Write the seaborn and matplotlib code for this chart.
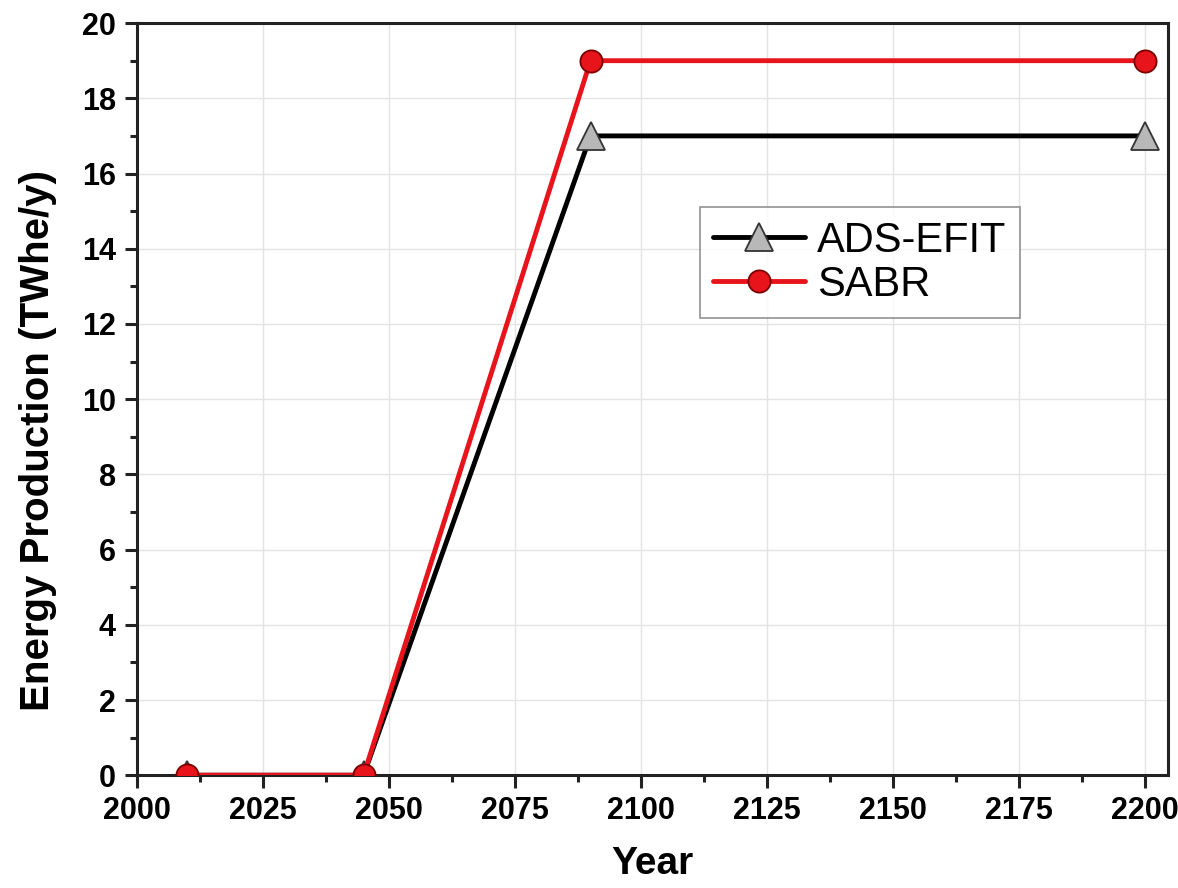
import matplotlib
matplotlib.use("Agg")
import matplotlib.pyplot as plt
from matplotlib.ticker import AutoMinorLocator
import seaborn as sns
import pandas as pd

years = [2010, 2045, 2090, 2200]
ads_efit = [0, 0, 17, 17]
sabr = [0, 0, 19, 19]
x_ticks = [2000, 2025, 2050, 2075, 2100, 2125, 2150, 2175, 2200]
y_ticks = [0, 2, 4, 6, 8, 10, 12, 14, 16, 18, 20]

sns.set_theme(style="white")
plt.rcParams["font.family"] = ["Liberation Sans", "DejaVu Sans"]
plt.rcParams["text.color"] = "black"
plt.rcParams["xtick.color"] = "black"
plt.rcParams["ytick.color"] = "black"
plt.rcParams["axes.labelcolor"] = "black"

fig = plt.figure(figsize=(11.78, 8.88), dpi=100)
ax = fig.add_axes([0.116, 0.127, 0.8755, 0.847])

df_a = pd.DataFrame({"Year": years, "Energy": ads_efit})
df_s = pd.DataFrame({"Year": years, "Energy": sabr})

sns.lineplot(data=df_a, x="Year", y="Energy", ax=ax, color="black", lw=3.5,
             marker="^", markersize=20, markerfacecolor="#b8b8b8",
             markeredgecolor="#333333", markeredgewidth=1.3, label="ADS-EFIT",
             zorder=3)
sns.lineplot(data=df_s, x="Year", y="Energy", ax=ax, color="#e8141c", lw=3.5,
             marker="o", markersize=16, markerfacecolor="#e8141c",
             markeredgecolor="#7a0000", markeredgewidth=1.3, label="SABR",
             zorder=4)

ax.set_xlim(2000, 2204.5)
ax.set_ylim(0, 20)
ax.set_xticks(x_ticks)
ax.set_yticks(y_ticks)
ax.xaxis.set_minor_locator(AutoMinorLocator(2))
ax.yaxis.set_minor_locator(AutoMinorLocator(2))
ax.grid(True, which="major", color="#e4e4e4", lw=1.0)
ax.set_axisbelow(True)

for s in ax.spines.values():
    s.set_color("#222222")
    s.set_linewidth(2.2)

ax.tick_params(axis="both", which="major", direction="out", length=9, width=2.2,
               color="#222222", labelsize=22, pad=6)
ax.tick_params(axis="both", which="minor", direction="out", length=5, width=2.2,
               color="#222222")
ax.tick_params(bottom=True, left=True, top=False, right=False)
ax.tick_params(which="minor", bottom=True, left=True, top=False, right=False)
for lab in ax.get_xticklabels() + ax.get_yticklabels():
    lab.set_fontweight("bold")

ax.set_xlabel("Year", fontsize=28, fontweight="bold", labelpad=14)
ax.set_ylabel("Energy Production (TWhe/y)", fontsize=29, fontweight="bold")
ax.yaxis.set_label_coords(-0.077, 0.445)

leg = ax.legend(loc="upper left", bbox_to_anchor=(0.546, 0.755), fontsize=30,
                frameon=True, fancybox=False, edgecolor="#777777",
                handlelength=2.2, borderpad=0.32, labelspacing=0.1,
                handletextpad=0.3, borderaxespad=0)
leg.get_frame().set_linewidth(1.2)

fig.savefig("out.png", dpi=100, facecolor="white")
